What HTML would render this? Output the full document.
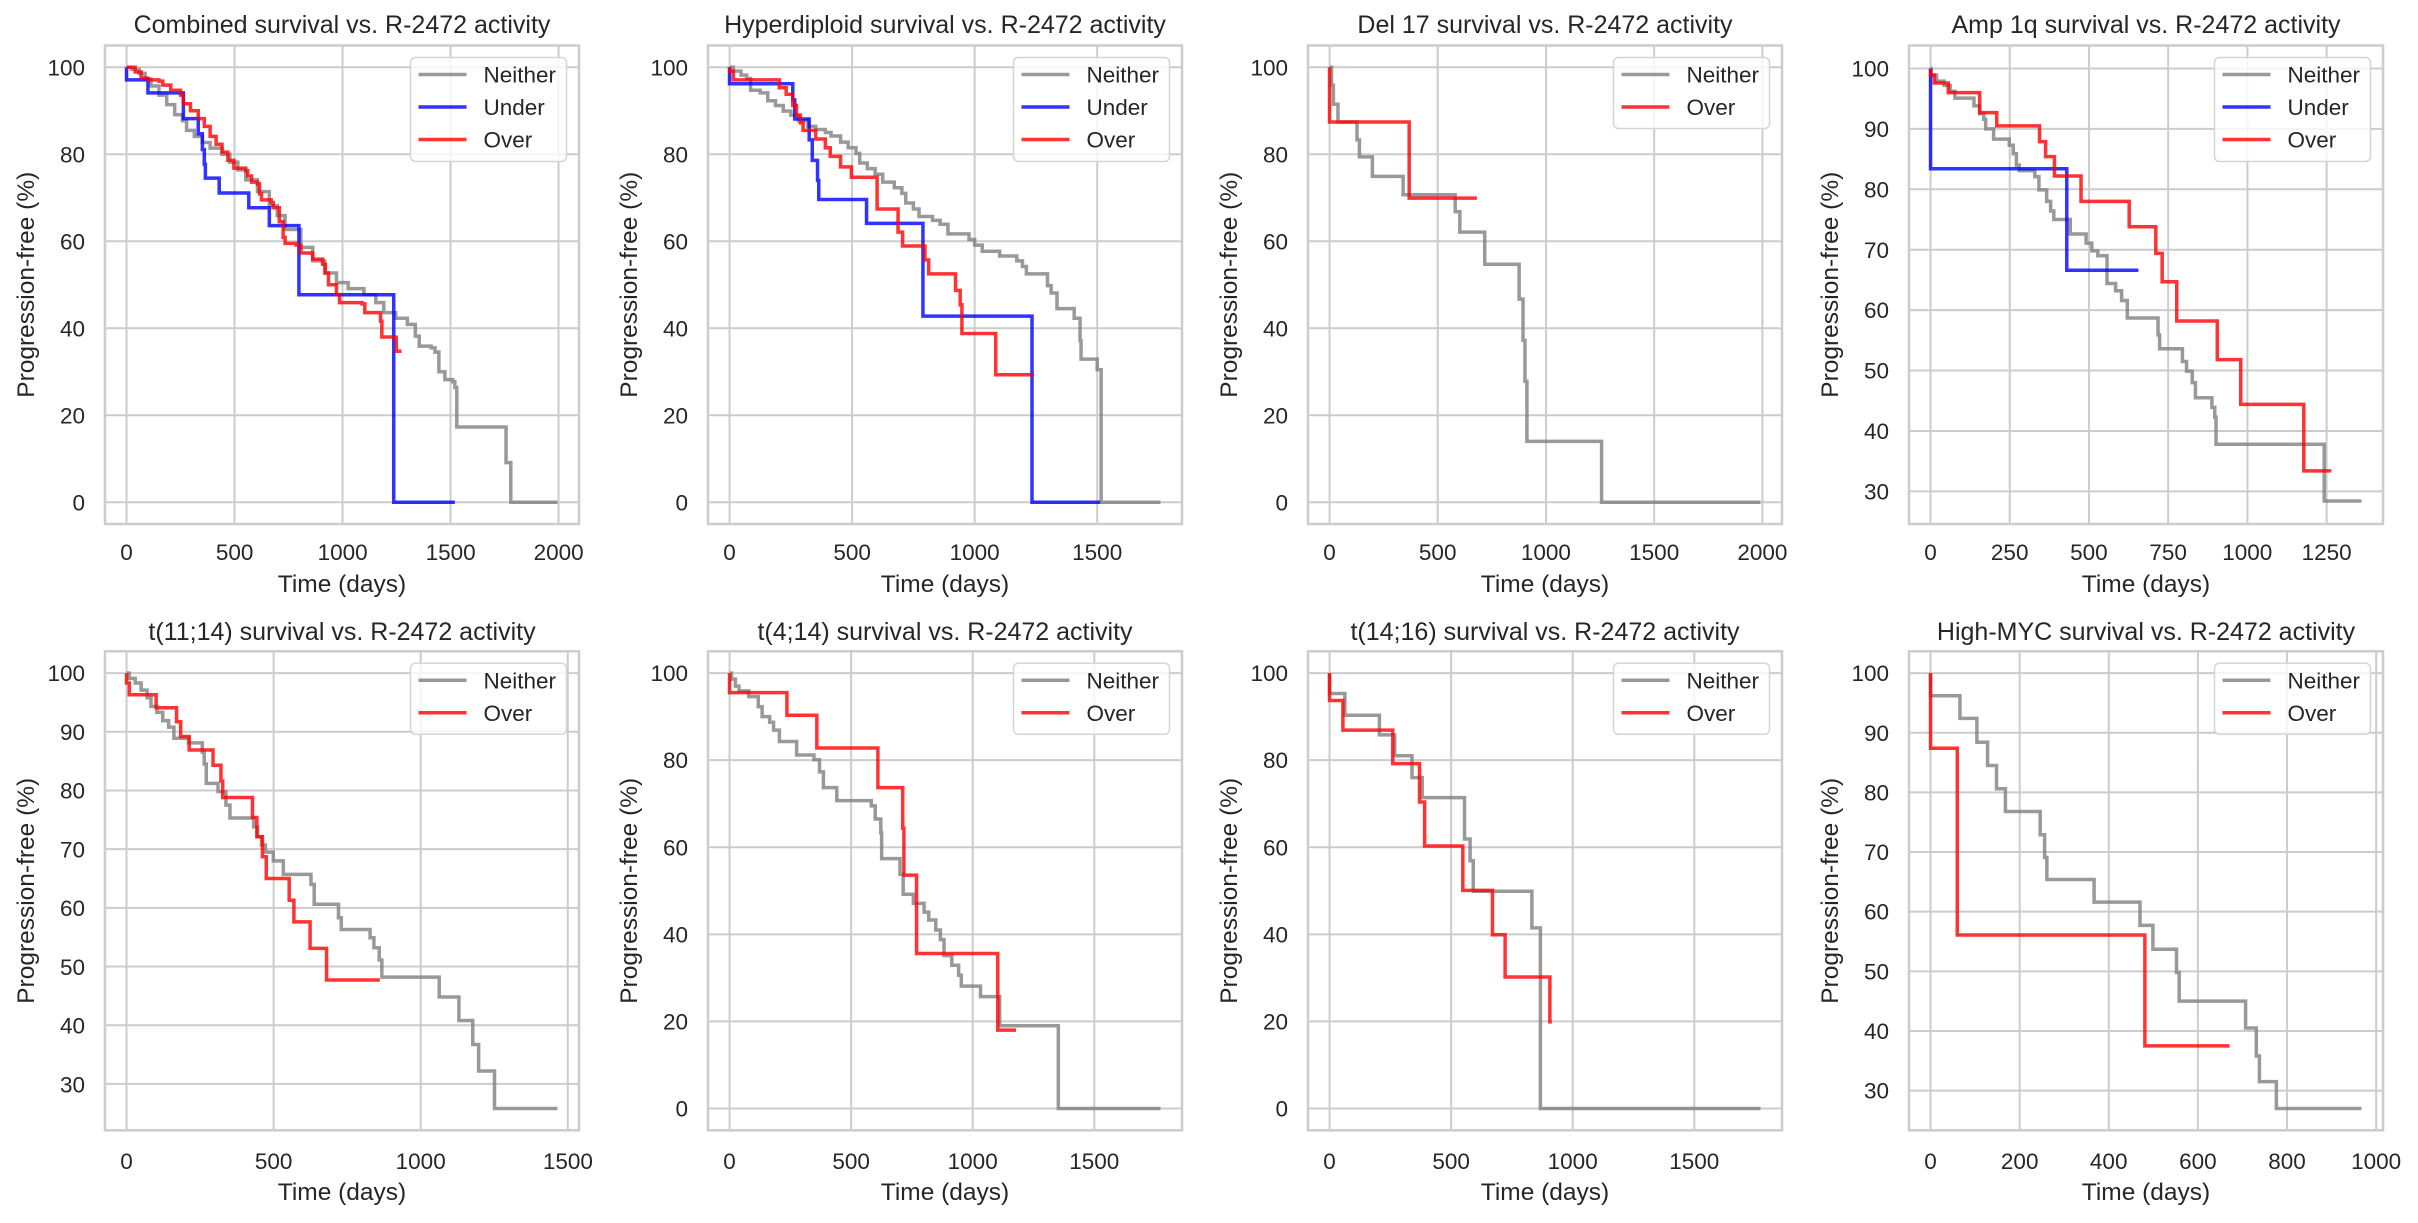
<!DOCTYPE html>
<html><head><meta charset="utf-8"><style>
html,body{margin:0;padding:0;background:#fff}
text{font-family:"Liberation Sans",Arial,sans-serif;fill:#262626}
.t{font-size:25px;text-anchor:middle}
.xl{font-size:24.5px;text-anchor:middle}
.tk{font-size:22.5px}
.tx{text-anchor:middle}
.ty{text-anchor:end}
.lg{font-size:22.5px}
.g{fill:none;stroke:#cccccc;stroke-width:2;vector-effect:non-scaling-stroke}
.s{fill:none;stroke-width:3.5;vector-effect:non-scaling-stroke;stroke-linejoin:miter}
.n{stroke:#808080;stroke-opacity:.8}
.u{stroke:#0000ff;stroke-opacity:.8}
.o{stroke:#ff0000;stroke-opacity:.8}
.fr{fill:none;stroke:#cccccc;stroke-width:2.5}
.lb{fill:#fff;fill-opacity:.8;stroke:#d6d6d6;stroke-width:1.5}
</style></head><body>
<svg width="2418" height="1218" viewBox="0 0 2418 1218" xmlns="http://www.w3.org/2000/svg">
<rect width="2418" height="1218" fill="#fff"/>

<!-- Panel 1 -->
<text class="t" x="342" y="33">Combined survival vs. R-2472 activity</text>
<svg x="105" y="45.5" width="474" height="478.5" viewBox="-99.75 -105 2194.5 110" preserveAspectRatio="none">
<g transform="scale(1,-1)">
<path class="g" d="M0,-5V105M500,-5V105M1000,-5V105M1500,-5V105M2000,-5V105M-100,0H2100M-100,20H2100M-100,40H2100M-100,60H2100M-100,80H2100M-100,100H2100"/>
<path class="s n" d="M0,100 H22 V99.5 H58.4 V98.6 H85.8 V97.3 H113 V95.7 H150 V93.6 H186 V91.4 H223 V89.1 H259 V87.7 H278 V85.5 H314 V84.1 H351 V82.7 H387 V81.4 H442 V80 H478.5 V78.2 H515 V76.4 H552 V74.1 H606 V71.4 H661 V68.2 H698 V65.9 H734 V62.7 H807 V58.6 H862 V55.5 H917 V52.7 H972 V50.5 H1026 V49.1 H1099 V47.7 H1154 V45.9 H1191 V43.6 H1246 V42.3 H1300 V40.9 H1337 V38.2 H1355 V35.9 H1410 V35.5 H1428 V34.5 H1446 V30 H1474 V28.2 H1510 V27.7 H1520 V26.4 H1529 V17.3 H1757 V9.1 H1779 V0 H1995"/>
<path class="s u" d="M0,100 V97.1 H99 V94.1 H263 V88.2 H332 V84.7 H351 V81.1 H360 V77.7 H365 V74.5 H429 V71.1 H566 V67.7 H661 V63.6 H798 V47.7 H1237 V0 H1520"/>
<path class="s o" d="M0,100 H40 V98.9 H67.6 V97.5 H98.6 V97.1 H150 V96.8 H168 V95.9 H204.6 V94.7 H250 V93.6 H263 V91.6 H296 V90 H332 V88.2 H360 V86.4 H387 V84.1 H414.6 V82.3 H442 V80.5 H469 V78.6 H497 V76.8 H552 V76.2 H561 V75 H579 V73.6 H606 V73.2 H615.5 V70.9 H624.7 V69.5 H670 V68.9 H679 V67.7 H707 V64.5 H725 V60.9 H734 V59.5 H785 V59.1 H807 V57.3 H862 V55.9 H908 V54.7 H920.5 V52.7 H935 V50 H972 V47.7 H986 V45.9 H1090 V45.6 H1103 V43.6 H1176 V41.6 H1182 V38 H1246 V37.7 H1249 V34.7 H1273"/>
</g></svg>
<rect class="fr" x="105" y="45.5" width="474" height="478.5"/>
<g class="tk tx"><text x="126.5" y="560">0</text><text x="234.6" y="560">500</text><text x="342.6" y="560">1000</text><text x="450.6" y="560">1500</text><text x="558.6" y="560">2000</text></g>
<g class="tk ty"><text x="85" y="75.3">100</text><text x="85" y="162.3">80</text><text x="85" y="249.3">60</text><text x="85" y="336.3">40</text><text x="85" y="423.3">20</text><text x="85" y="510.3">0</text></g>
<text class="xl" x="342" y="592">Time (days)</text>
<text class="xl" transform="translate(34,284.75) rotate(-90)">Progression-free (%)</text>
<rect class="lb" x="410.5" y="57.5" width="156" height="104" rx="5"/>
<path d="M418.5,74.5h48" stroke="#808080" stroke-opacity=".8" stroke-width="3.5"/>
<path d="M418.5,107h48" stroke="#0000ff" stroke-opacity=".8" stroke-width="3.5"/>
<path d="M418.5,139.5h48" stroke="#ff0000" stroke-opacity=".8" stroke-width="3.5"/>
<text class="lg" x="483.5" y="82.5">Neither</text><text class="lg" x="483.5" y="115">Under</text><text class="lg" x="483.5" y="147.5">Over</text>

<!-- Panel 2 -->
<text class="t" x="945" y="33">Hyperdiploid survival vs. R-2472 activity</text>
<svg x="708" y="45.5" width="474" height="478.5" viewBox="-87.9 -105 1933.8 110" preserveAspectRatio="none">
<g transform="scale(1,-1)">
<path class="g" d="M0,-5V105M500,-5V105M1000,-5V105M1500,-5V105M-100,0H2100M-100,20H2100M-100,40H2100M-100,60H2100M-100,80H2100M-100,100H2100"/>
<path class="s n" d="M0,100 H15.6 V99.1 H47 V98.2 H70 V97.4 H86 V94.7 H125 V94.1 H156 V92.3 H187.5 V91.2 H219 V89.9 H250 V89 H281 V87.7 H320 V86.4 H351.6 V85.7 H391 V85 H414 V84.2 H453 V82.8 H484 V81.5 H516 V80.2 H531 V78 H562 V76.7 H594 V75.4 H625 V73.6 H672 V72.3 H703 V71 H719 V68.8 H750 V67.4 H773 V65.7 H828 V64.8 H859 V63.9 H891 V61.7 H977 V60.4 H1000 V59.1 H1031 V57.7 H1102 V56.6 H1172 V55.5 H1195 V54.2 H1211 V52.5 H1297 V49.8 H1312 V48.1 H1336 V44.5 H1406 V42.3 H1430 V37.1 H1434 V32.9 H1500 V30.5 H1516 V0 H1758"/>
<path class="s u" d="M0,100 V96.2 H258 V92.5 H266 V88.1 H325 V83.3 H337.5 V78.6 H359 V74 H364 V69.6 H559 V64.1 H789 V42.8 H1234 V0 H1512"/>
<path class="s o" d="M0,100 V99.1 H15.6 V97.1 H203 V95.3 H231 V93.8 H258 V91.2 H273 V89 H289 V87.2 H300 V85.5 H351.6 V83.5 H391 V81.5 H411 V79.5 H453 V77.1 H497 V74.7 H602 V67.4 H687.5 V62.1 H706 V58.9 H797 V55.7 H812.5 V52.5 H922 V48.7 H941 V45.4 H948 V38.8 H1086 V29.3 H1242"/>
</g></svg>
<rect class="fr" x="708" y="45.5" width="474" height="478.5"/>
<g class="tk tx"><text x="729.5" y="560">0</text><text x="852.1" y="560">500</text><text x="974.6" y="560">1000</text><text x="1097.2" y="560">1500</text></g>
<g class="tk ty"><text x="688" y="75.3">100</text><text x="688" y="162.3">80</text><text x="688" y="249.3">60</text><text x="688" y="336.3">40</text><text x="688" y="423.3">20</text><text x="688" y="510.3">0</text></g>
<text class="xl" x="945" y="592">Time (days)</text>
<text class="xl" transform="translate(637,284.75) rotate(-90)">Progression-free (%)</text>
<rect class="lb" x="1013.5" y="57.5" width="156" height="104" rx="5"/>
<path d="M1021.5,74.5h48" stroke="#808080" stroke-opacity=".8" stroke-width="3.5"/>
<path d="M1021.5,107h48" stroke="#0000ff" stroke-opacity=".8" stroke-width="3.5"/>
<path d="M1021.5,139.5h48" stroke="#ff0000" stroke-opacity=".8" stroke-width="3.5"/>
<text class="lg" x="1086.5" y="82.5">Neither</text><text class="lg" x="1086.5" y="115">Under</text><text class="lg" x="1086.5" y="147.5">Over</text>

<!-- Panel 3 -->
<text class="t" x="1545" y="33">Del 17 survival vs. R-2472 activity</text>
<svg x="1308" y="45.5" width="474" height="478.5" viewBox="-99.55 -105 2190.1 110" preserveAspectRatio="none">
<g transform="scale(1,-1)">
<path class="g" d="M0,-5V105M500,-5V105M1000,-5V105M1500,-5V105M2000,-5V105M-100,0H2100M-100,20H2100M-100,40H2100M-100,60H2100M-100,80H2100M-100,100H2100"/>
<path class="s n" d="M0,100 H9 V95.9 H17.7 V91.5 H38.9 V87.4 H127 V83.3 H138 V79.4 H198 V74.9 H340 V70.7 H580.5 V66.8 H602 V62.1 H717 V54.7 H876 V46.7 H894 V37.2 H903 V27.8 H912 V14 H1257 V0 H1991"/>
<path class="s o" d="M0,100 V87.4 H368 V69.9 H681"/>
</g></svg>
<rect class="fr" x="1308" y="45.5" width="474" height="478.5"/>
<g class="tk tx"><text x="1329.5" y="560">0</text><text x="1437.7" y="560">500</text><text x="1545.9" y="560">1000</text><text x="1654.2" y="560">1500</text><text x="1762.4" y="560">2000</text></g>
<g class="tk ty"><text x="1288" y="75.3">100</text><text x="1288" y="162.3">80</text><text x="1288" y="249.3">60</text><text x="1288" y="336.3">40</text><text x="1288" y="423.3">20</text><text x="1288" y="510.3">0</text></g>
<text class="xl" x="1545" y="592">Time (days)</text>
<text class="xl" transform="translate(1237,284.75) rotate(-90)">Progression-free (%)</text>
<rect class="lb" x="1613.5" y="57.5" width="156" height="71" rx="5"/>
<path d="M1621.5,74.5h48" stroke="#808080" stroke-opacity=".8" stroke-width="3.5"/>
<path d="M1621.5,107h48" stroke="#ff0000" stroke-opacity=".8" stroke-width="3.5"/>
<text class="lg" x="1686.5" y="82.5">Neither</text><text class="lg" x="1686.5" y="115">Over</text>

<!-- Panel 4 -->
<text class="t" x="2146" y="33">Amp 1q survival vs. R-2472 activity</text>
<svg x="1909" y="45.5" width="474" height="478.5" viewBox="-68 -103.8 1496 79.2" preserveAspectRatio="none">
<g transform="scale(1,-1)">
<path class="g" d="M0,0V110M250,0V110M500,0V110M750,0V110M1000,0V110M1250,0V110M-100,30H1500M-100,40H1500M-100,50H1500M-100,60H1500M-100,70H1500M-100,80H1500M-100,90H1500M-100,100H1500"/>
<path class="s n" d="M0,100 H2 V98.9 H19 V97.9 H43 V97.2 H62 V96.2 H77 V95.1 H137 V93.8 H155 V92.5 H168 V91.6 H174 V90 H199 V88.3 H248.5 V87.3 H261 V85.9 H271 V84 H280 V83.1 H329 V82.1 H342 V79.9 H366.5 V78 H379 V76.4 H389 V75 H441 V72.6 H491 V71.1 H509 V69.8 H528 V69 H557 V64.4 H584 V63.2 H603 V61.6 H621 V58.7 H718 V55.9 H723 V53.6 H795 V51.5 H808 V49.9 H826 V48 H836 V45.5 H888 V43.9 H897 V42.3 H901 V37.8 H1242.5 V28.4 H1360"/>
<path class="s u" d="M0,100 V83.4 H430 V66.6 H656"/>
<path class="s o" d="M0,100 V98.9 H12 V97.6 H56 V96 H155 V92.7 H209 V90.5 H344 V87.9 H363 V85.4 H391 V82.2 H475 V78 H627 V73.8 H711 V69.4 H731 V64.7 H777 V58.2 H905 V51.8 H979 V44.4 H1178 V33.4 H1265"/>
</g></svg>
<rect class="fr" x="1909" y="45.5" width="474" height="478.5"/>
<g class="tk tx"><text x="1930.5" y="560">0</text><text x="2009.7" y="560">250</text><text x="2088.9" y="560">500</text><text x="2168.1" y="560">750</text><text x="2247.3" y="560">1000</text><text x="2326.6" y="560">1250</text></g>
<g class="tk ty"><text x="1889" y="76.5">100</text><text x="1889" y="136.9">90</text><text x="1889" y="197.3">80</text><text x="1889" y="257.8">70</text><text x="1889" y="318.2">60</text><text x="1889" y="378.6">50</text><text x="1889" y="439">40</text><text x="1889" y="499.4">30</text></g>
<text class="xl" x="2146" y="592">Time (days)</text>
<text class="xl" transform="translate(1838,284.75) rotate(-90)">Progression-free (%)</text>
<rect class="lb" x="2214.5" y="57.5" width="156" height="104" rx="5"/>
<path d="M2222.5,74.5h48" stroke="#808080" stroke-opacity=".8" stroke-width="3.5"/>
<path d="M2222.5,107h48" stroke="#0000ff" stroke-opacity=".8" stroke-width="3.5"/>
<path d="M2222.5,139.5h48" stroke="#ff0000" stroke-opacity=".8" stroke-width="3.5"/>
<text class="lg" x="2287.5" y="82.5">Neither</text><text class="lg" x="2287.5" y="115">Under</text><text class="lg" x="2287.5" y="147.5">Over</text>

<!-- Panel 5 -->
<text class="t" x="342" y="640">t(11;14) survival vs. R-2472 activity</text>
<svg x="105" y="651.3" width="474" height="479" viewBox="-73.25 -103.71 1611.5 81.62" preserveAspectRatio="none">
<g transform="scale(1,-1)">
<path class="g" d="M0,0V110M500,0V110M1000,0V110M1500,0V110M-100,30H1600M-100,40H1600M-100,50H1600M-100,60H1600M-100,70H1600M-100,80H1600M-100,90H1600M-100,100H1600"/>
<path class="s n" d="M0,100 H9.4 V99.1 H29.5 V98.3 H49.6 V97.1 H70 V95.8 H83 V94.3 H103 V93.3 H123 V91.9 H143 V90.8 H161 V88.9 H210.6 V88.1 H257.6 V86.5 H264 V84.5 H271 V81.2 H311 V79.8 H338 V77.5 H351.6 V75.3 H432 V73.8 H445.6 V72.1 H459 V70.7 H472 V69.5 H499 V68 H533 V65.7 H627 V64 H638 V60.6 H720.5 V58.3 H730 V56.3 H828 V54.9 H841 V53.2 H859 V51.1 H868 V48.2 H1063 V44.8 H1130 V40.8 H1177 V36.7 H1197 V32.2 H1251 V25.8 H1465"/>
<path class="s o" d="M0,100 V98.3 H9.4 V96.3 H100.6 V94.1 H170 V91.7 H184 V89.2 H213 V86.9 H294 V84.3 H321 V81.6 H327 V78.8 H428 V75.4 H443 V72.1 H462 V68.7 H475 V65 H553 V61.3 H569 V57.6 H624 V53.1 H680 V47.7 H861"/>
</g></svg>
<rect class="fr" x="105" y="651.3" width="474" height="479"/>
<g class="tk tx"><text x="126.5" y="1169">0</text><text x="273.6" y="1169">500</text><text x="420.7" y="1169">1000</text><text x="567.9" y="1169">1500</text></g>
<g class="tk ty"><text x="85" y="681.1">100</text><text x="85" y="739.8">90</text><text x="85" y="798.7">80</text><text x="85" y="857.5">70</text><text x="85" y="916.2">60</text><text x="85" y="974.9">50</text><text x="85" y="1033.6">40</text><text x="85" y="1092.3">30</text></g>
<text class="xl" x="342" y="1200">Time (days)</text>
<text class="xl" transform="translate(34,890.8) rotate(-90)">Progression-free (%)</text>
<rect class="lb" x="410.5" y="663.3" width="156" height="71" rx="5"/>
<path d="M418.5,680.3h48" stroke="#808080" stroke-opacity=".8" stroke-width="3.5"/>
<path d="M418.5,712.8h48" stroke="#ff0000" stroke-opacity=".8" stroke-width="3.5"/>
<text class="lg" x="483.5" y="688.3">Neither</text><text class="lg" x="483.5" y="720.8">Over</text>

<!-- Panel 6 -->
<text class="t" x="945" y="640">t(4;14) survival vs. R-2472 activity</text>
<svg x="708" y="651.3" width="474" height="479" viewBox="-88.6 -105 1949.2 110" preserveAspectRatio="none">
<g transform="scale(1,-1)">
<path class="g" d="M0,-5V105M500,-5V105M1000,-5V105M1500,-5V105M-100,0H2100M-100,20H2100M-100,40H2100M-100,60H2100M-100,80H2100M-100,100H2100"/>
<path class="s n" d="M0,100 H8 V98.6 H24 V97 H39 V95.9 H79 V94.6 H118 V92.3 H134 V90 H165 V88.7 H181 V86.9 H205 V84.3 H276 V81.2 H347 V80.1 H370 V77.3 H386 V73.7 H441 V70.7 H583 V69.5 H599 V66.5 H622 V63.3 H625.5 V57.4 H701 V53.8 H714 V49.2 H756 V47.1 H800 V45.1 H819 V43.3 H848 V41 H867 V38.8 H882 V35.1 H914 V32.9 H942 V30.6 H953 V28.1 H1032 V25.7 H1111 V19 H1352 V0 H1772"/>
<path class="s o" d="M0,100 V95.5 H236 V90.3 H359 V82.8 H610 V73.7 H712 V64.4 H717 V53.6 H769 V35.6 H1103 V18 H1178"/>
</g></svg>
<rect class="fr" x="708" y="651.3" width="474" height="479"/>
<g class="tk tx"><text x="729.5" y="1169">0</text><text x="851.1" y="1169">500</text><text x="972.7" y="1169">1000</text><text x="1094.3" y="1169">1500</text></g>
<g class="tk ty"><text x="688" y="681.1">100</text><text x="688" y="768.2">80</text><text x="688" y="855.3">60</text><text x="688" y="942.4">40</text><text x="688" y="1029.5">20</text><text x="688" y="1116.5">0</text></g>
<text class="xl" x="945" y="1200">Time (days)</text>
<text class="xl" transform="translate(637,890.8) rotate(-90)">Progression-free (%)</text>
<rect class="lb" x="1013.5" y="663.3" width="156" height="71" rx="5"/>
<path d="M1021.5,680.3h48" stroke="#808080" stroke-opacity=".8" stroke-width="3.5"/>
<path d="M1021.5,712.8h48" stroke="#ff0000" stroke-opacity=".8" stroke-width="3.5"/>
<text class="lg" x="1086.5" y="688.3">Neither</text><text class="lg" x="1086.5" y="720.8">Over</text>

<!-- Panel 7 -->
<text class="t" x="1545" y="640">t(14;16) survival vs. R-2472 activity</text>
<svg x="1308" y="651.3" width="474" height="479" viewBox="-88.6 -105 1949.2 110" preserveAspectRatio="none">
<g transform="scale(1,-1)">
<path class="g" d="M0,-5V105M500,-5V105M1000,-5V105M1500,-5V105M-100,0H2100M-100,20H2100M-100,40H2100M-100,60H2100M-100,80H2100M-100,100H2100"/>
<path class="s n" d="M0,100 V95.3 H63 V90.3 H205 V85.8 H268 V81 H339 V76 H381 V71.4 H555 V61.9 H578 V56.9 H591 V49.9 H832 V41.5 H867 V0 H1772"/>
<path class="s o" d="M0,100 V93.7 H55 V86.9 H260 V79.2 H370 V70.4 H391 V60.3 H548 V50.1 H670 V39.9 H722 V30.2 H906 V19.9 H914"/>
</g></svg>
<rect class="fr" x="1308" y="651.3" width="474" height="479"/>
<g class="tk tx"><text x="1329.5" y="1169">0</text><text x="1451.1" y="1169">500</text><text x="1572.7" y="1169">1000</text><text x="1694.3" y="1169">1500</text></g>
<g class="tk ty"><text x="1288" y="681.1">100</text><text x="1288" y="768.2">80</text><text x="1288" y="855.3">60</text><text x="1288" y="942.4">40</text><text x="1288" y="1029.5">20</text><text x="1288" y="1116.5">0</text></g>
<text class="xl" x="1545" y="1200">Time (days)</text>
<text class="xl" transform="translate(1237,890.8) rotate(-90)">Progression-free (%)</text>
<rect class="lb" x="1613.5" y="663.3" width="156" height="71" rx="5"/>
<path d="M1621.5,680.3h48" stroke="#808080" stroke-opacity=".8" stroke-width="3.5"/>
<path d="M1621.5,712.8h48" stroke="#ff0000" stroke-opacity=".8" stroke-width="3.5"/>
<text class="lg" x="1686.5" y="688.3">Neither</text><text class="lg" x="1686.5" y="720.8">Over</text>

<!-- Panel 8 -->
<text class="t" x="2146" y="640">High-MYC survival vs. R-2472 activity</text>
<svg x="1909" y="651.3" width="474" height="479" viewBox="-48.35 -103.65 1063.7 80.3" preserveAspectRatio="none">
<g transform="scale(1,-1)">
<path class="g" d="M0,0V110M200,0V110M400,0V110M600,0V110M800,0V110M1000,0V110M-100,30H1100M-100,40H1100M-100,50H1100M-100,60H1100M-100,70H1100M-100,80H1100M-100,90H1100M-100,100H1100"/>
<path class="s n" d="M0,100 V96.2 H66 V92.4 H104 V88.4 H128 V84.5 H148 V80.6 H168 V76.8 H246 V72.9 H256 V69.1 H261 V65.4 H367 V61.6 H470 V57.7 H499 V53.7 H552 V49.8 H558 V45 H707 V40.5 H731 V35.8 H738 V31.5 H776 V27 H967"/>
<path class="s o" d="M0,100 V87.4 H60 V56.1 H481 V37.5 H671"/>
</g></svg>
<rect class="fr" x="1909" y="651.3" width="474" height="479"/>
<g class="tk tx"><text x="1930.5" y="1169">0</text><text x="2019.7" y="1169">200</text><text x="2108.7" y="1169">400</text><text x="2197.9" y="1169">600</text><text x="2287" y="1169">800</text><text x="2376.1" y="1169">1000</text></g>
<g class="tk ty"><text x="1889" y="681.1">100</text><text x="1889" y="740.8">90</text><text x="1889" y="800.4">80</text><text x="1889" y="860.1">70</text><text x="1889" y="919.7">60</text><text x="1889" y="979.4">50</text><text x="1889" y="1039">40</text><text x="1889" y="1098.7">30</text></g>
<text class="xl" x="2146" y="1200">Time (days)</text>
<text class="xl" transform="translate(1838,890.8) rotate(-90)">Progression-free (%)</text>
<rect class="lb" x="2214.5" y="663.3" width="156" height="71" rx="5"/>
<path d="M2222.5,680.3h48" stroke="#808080" stroke-opacity=".8" stroke-width="3.5"/>
<path d="M2222.5,712.8h48" stroke="#ff0000" stroke-opacity=".8" stroke-width="3.5"/>
<text class="lg" x="2287.5" y="688.3">Neither</text><text class="lg" x="2287.5" y="720.8">Over</text>
</svg>
</body></html>
